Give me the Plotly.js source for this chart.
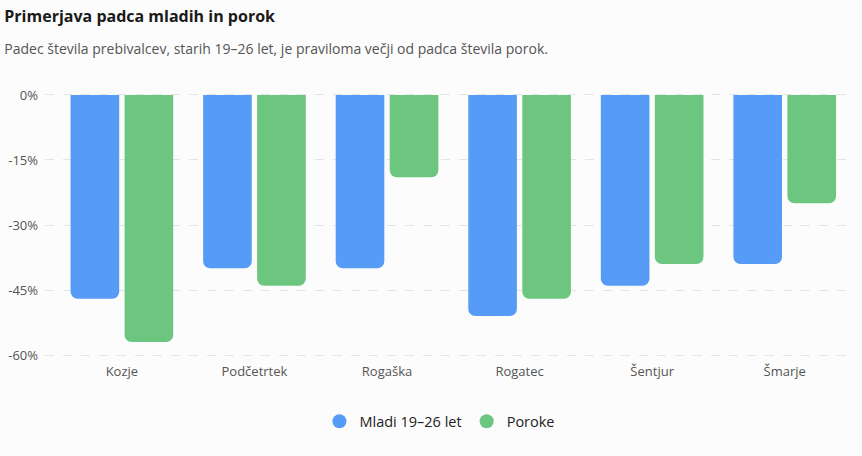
<!DOCTYPE html>
<html>
<head>
<meta charset="utf-8">
<script src="https://cdn.plot.ly/plotly-3.0.1.min.js"></script>
<style>
  html, body { margin: 0; padding: 0; background: #fcfcfc; }
  #chart { width: 862px; height: 456px; }
</style>
</head>
<body>
<div id="chart"></div>
<script>
var obcine = ['Kozje', 'Podčetrtek', 'Rogaška', 'Rogatec', 'Šentjur', 'Šmarje'];
var mladi = [-47, -40, -40, -51, -44, -39];
var poroke = [-57, -44, -19, -47, -39, -25];
var yTicks = [0, -15, -30, -45, -60];
var yTickText = yTicks.map(function (v) { return v + '%'; });

var modra = '#569bf6';
var zelena = '#6dc680';

var data = [
    {
        x: obcine,
        y: mladi,
        name: 'Mladi 19–26 let',
        type: 'bar',
        marker: { color: modra, cornerradius: 7 },
        showlegend: false,
        hovertemplate: '%{x}: %{y}%<extra></extra>'
    },
    {
        x: obcine,
        y: poroke,
        name: 'Poroke',
        type: 'bar',
        marker: { color: zelena, cornerradius: 7 },
        showlegend: false,
        hovertemplate: '%{x}: %{y}%<extra></extra>'
    },
    // legenda s krogci
    {
        x: [null], y: [null], name: 'Mladi 19–26 let', type: 'scatter', mode: 'markers',
        marker: { color: modra, size: 14, symbol: 'circle' }
    },
    {
        x: [null], y: [null], name: 'Poroke', type: 'scatter', mode: 'markers',
        marker: { color: zelena, size: 14, symbol: 'circle' }
    }
];

var layout = {
    width: 862,
    height: 456,
    paper_bgcolor: '#fcfcfc',
    plot_bgcolor: '#fcfcfc',
    font: { family: 'Open Sans, Noto Sans, sans-serif', color: '#555' },
    title: {
        text: '<b>Primerjava padca mladih in porok</b>',
        font: { size: 16, color: '#1a1a1a' },
        xref: 'container', x: 0.005, xanchor: 'left',
        yref: 'container', y: 0.965, yanchor: 'middle',
        subtitle: {
            text: 'Padec števila prebivalcev, starih 19–26 let, je praviloma večji od padca števila porok.',
            font: { size: 14, color: '#555' }
        }
    },
    margin: { l: 45, r: 11, t: 88, b: 94 },
    barmode: 'group',
    bargap: 0.185,
    bargroupgap: 0.1,
    xaxis: {
        type: 'category',
        range: [-0.58, 5.5],
        showgrid: false,
        showline: false,
        ticks: '',
        tickfont: { size: 13, color: '#555' }
    },
    yaxis: {
        range: [-61.6, 1.6],
        tickvals: yTicks,
        ticktext: yTickText,
        showgrid: true,
        gridcolor: '#e4e4e4',
        griddash: 'dash',
        zeroline: false,
        ticks: '',
        ticklabelstandoff: 6,
        tickfont: { size: 13, color: '#555' }
    },
    showlegend: true,
    legend: {
        orientation: 'h',
        x: 0.49, xanchor: 'center',
        y: -0.158, yanchor: 'top',
        font: { size: 14.5, color: '#222' },
        itemwidth: 30,
        traceorder: 'normal'
    }
};

Plotly.newPlot('chart', data, layout, { displayModeBar: false });
</script>
</body>
</html>
